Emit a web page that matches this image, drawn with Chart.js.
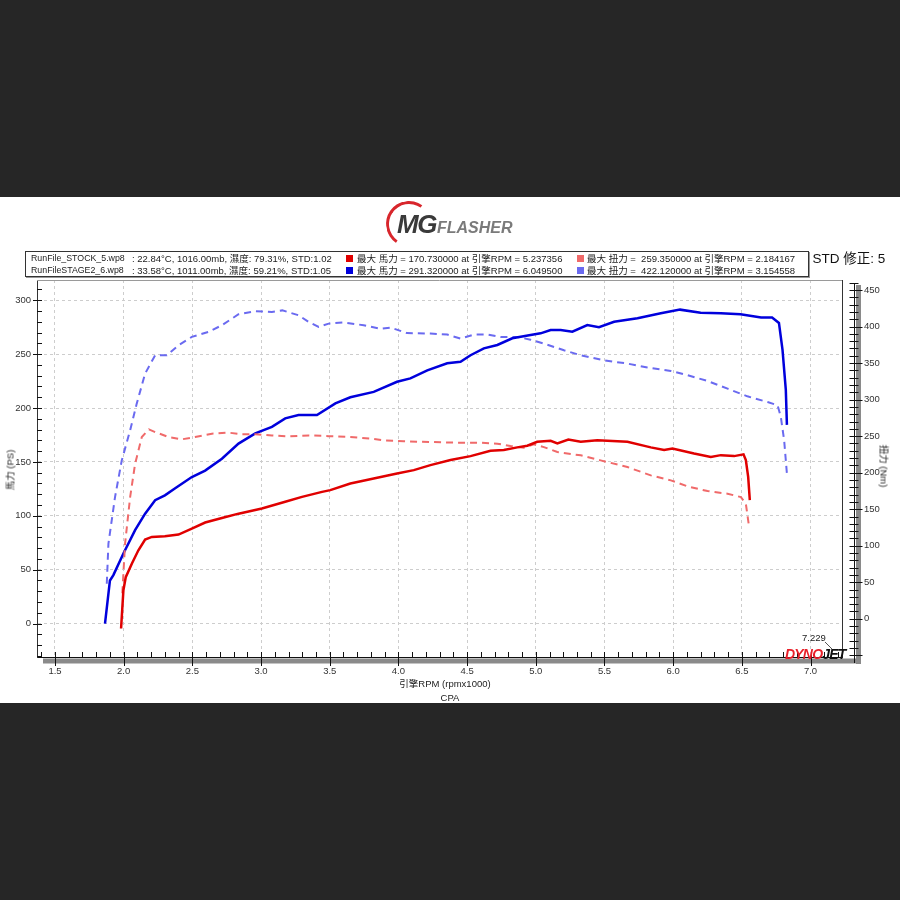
<!DOCTYPE html>
<html><head><meta charset="utf-8">
<script src="https://cdn.jsdelivr.net/npm/chart.js@4.4.1/dist/chart.umd.min.js"></script>
<style>
html,body{margin:0;padding:0;background:#262626;width:900px;height:900px;overflow:hidden;font-family:"Liberation Sans","Noto Sans CJK TC",Arial,sans-serif;}
#band{position:absolute;left:0;top:197px;width:900px;height:506px;background:#fff;}
#wrap{position:absolute;left:0;top:0;width:900px;height:900px;}
.t{position:absolute;white-space:nowrap;color:#222;z-index:3;}
#legend{position:absolute;left:25px;top:251px;width:782px;height:24px;border:1px solid #333;background:#fff;z-index:4;box-shadow:1px 1px 0 #999;}
#legend .t{font-size:9.5px;line-height:11px;color:#222;}
#legend .fn{font-size:8.8px;}
.sq{position:absolute;width:7px;height:7px;z-index:5;}
#arc{position:absolute;left:386px;top:201px;width:40px;height:40px;border-radius:50%;border:3px solid transparent;border-top-color:#d8262c;border-left-color:#d8262c;transform:rotate(-10deg);z-index:2;}
</style></head><body>
<div id="band"></div>
<div id="wrap"><canvas id="c" width="900" height="900"></canvas></div>

<div id="arc"></div>
<div class="t" style="left:397px;top:209px;font:italic bold 26px 'Liberation Sans',Arial,sans-serif;color:#3a3a3a;letter-spacing:-1.5px;">MG</div>
<div class="t" style="left:437px;top:219px;font:italic bold 16px 'Liberation Sans',Arial,sans-serif;color:#7a7a7a;letter-spacing:0px;">FLASHER</div>

<div class="t" style="left:805px;top:247px;font-size:13.5px;color:#111;">: STD 修正: 5</div>

<div id="legend">
  <div class="t fn" style="left:5px;top:1px;">RunFile_STOCK_5.wp8</div>
  <div class="t" style="left:106px;top:1px;">: 22.84°C, 1016.00mb, 濕度: 79.31%, STD:1.02</div>
  <div class="sq" style="left:320px;top:3px;background:#e00000;"></div>
  <div class="t" style="left:331px;top:1px;">最大 馬力 = 170.730000 at 引擎RPM = 5.237356</div>
  <div class="sq" style="left:551px;top:3px;background:#f06a6a;"></div>
  <div class="t" style="left:561px;top:1px;">最大 扭力 =&nbsp; 259.350000 at 引擎RPM = 2.184167</div>
  <div class="t fn" style="left:5px;top:13px;">RunFileSTAGE2_6.wp8</div>
  <div class="t" style="left:106px;top:13px;">: 33.58°C, 1011.00mb, 濕度: 59.21%, STD:1.05</div>
  <div class="sq" style="left:320px;top:15px;background:#0000dc;"></div>
  <div class="t" style="left:331px;top:13px;">最大 馬力 = 291.320000 at 引擎RPM = 6.049500</div>
  <div class="sq" style="left:551px;top:15px;background:#6a6af0;"></div>
  <div class="t" style="left:561px;top:13px;">最大 扭力 =&nbsp; 422.120000 at 引擎RPM = 3.154558</div>
</div>

<div class="t" style="left:-13px;top:463px;width:45px;text-align:center;font-size:9.5px;transform:rotate(-90deg);">馬力 (PS)</div>
<div class="t" style="left:862px;top:459px;width:45px;text-align:center;font-size:9.5px;transform:rotate(90deg);">扭力 (Nm)</div>
<div class="t" style="left:385px;top:676px;width:120px;text-align:center;font-size:9.5px;">引擎RPM (rpmx1000)</div>
<div class="t" style="left:430px;top:692px;width:40px;text-align:center;font-size:9.5px;">CPA</div>
<div class="t" style="left:802px;top:632px;font-size:9.5px;">7.229</div>
<div class="t" style="left:785px;top:646px;font:italic bold 14px 'Liberation Sans',Arial,sans-serif;color:#e8202a;letter-spacing:-0.8px;">DYNO<span style="color:#111;">JET</span></div>

<script>
// ---- data (rpm x1000, PS, Nm) ----
const stockRpmHp = [1.981,1.998,2.015,2.06,2.107,2.156,2.205,2.30,2.399,2.496,2.593,2.715,2.836,3.006,3.176,3.298,3.444,3.504,3.65,3.82,3.99,4.112,4.233,4.379,4.525,4.67,4.767,4.865,4.938,5.01,5.108,5.157,5.237,5.327,5.448,5.667,5.837,5.934,5.995,6.152,6.274,6.347,6.444,6.512,6.529,6.546,6.558];
const stockHp = [-4.6,31,43,55.7,68,78,80.4,81,82.6,88.2,93.8,98,102,106.8,113,117.6,122.2,123.8,130,134.7,139.3,142.4,147,151.7,155.4,160.3,161,163.5,165,168.7,169.6,167.2,170.7,168.7,170.2,168.7,163.5,161,162.5,157.9,154.7,156.3,155.4,157,151.7,136.2,114.5];
const stockRpmTq = [1.99,2.01,2.047,2.083,2.132,2.184,2.229,2.326,2.423,2.52,2.642,2.763,2.86,2.958,3.079,3.20,3.346,3.492,3.65,3.796,3.893,4.039,4.233,4.428,4.598,4.72,4.816,4.913,4.986,5.059,5.157,5.327,5.472,5.667,5.837,5.983,6.105,6.25,6.396,6.493,6.529,6.553];
const stockTq = [35,102.7,166.6,212,248.8,259.3,255.6,248.8,245.6,248.8,253.4,254.8,252.5,252.5,251,249.7,251,250,248.8,246.6,244.2,242.9,242,241,241,239.7,236.4,234.2,238.8,235,228.2,223.7,216.8,207.7,196.3,189.5,181.2,174.8,171.2,166.6,157.5,125.5];
const stage2RpmHp = [1.864,1.90,1.925,1.998,2.083,2.156,2.229,2.30,2.375,2.496,2.593,2.715,2.836,2.958,3.079,3.176,3.273,3.407,3.541,3.65,3.82,3.99,4.087,4.21,4.355,4.452,4.525,4.622,4.72,4.829,4.962,5.035,5.108,5.181,5.266,5.375,5.46,5.57,5.74,5.91,6.05,6.20,6.347,6.49,6.64,6.72,6.77,6.796,6.82,6.828];
const stage2Hp = [0,40,45,65,86.7,102,114.5,119,125.6,136,142,153,167,176.5,182.6,190.4,193.5,193.5,204.3,210,215,224.4,227.5,235,241.5,243,249,255.4,258.5,264.7,267.8,269.3,272.4,272.4,270.8,277,275,280,283.3,288,291.3,288.5,288,287,284,284,279,254,216.8,184.4];
const stage2RpmTq = [1.877,1.889,1.937,1.986,2.047,2.095,2.156,2.229,2.314,2.399,2.496,2.617,2.715,2.836,2.958,3.079,3.155,3.273,3.346,3.419,3.492,3.60,3.747,3.869,3.942,4.063,4.233,4.355,4.452,4.549,4.647,4.743,4.865,4.962,5.059,5.205,5.327,5.496,5.667,5.813,5.983,6.105,6.25,6.396,6.54,6.687,6.76,6.784,6.808,6.828];
const stage2Tq = [48,103,166.6,216.8,258,294.5,335.6,360.7,360.7,374.4,385.8,392.6,401.8,416.8,421,420,422.1,415.5,406.3,399.5,404,405.5,401.8,397,398.6,391,390.4,389,383.6,389,389,385.8,385.8,382,376.7,367.5,360.7,353.8,349.3,343.8,339.2,333.3,325.5,315,304.5,296.7,292.2,276,244,198.6];

const xRange = [1.369, 7.229];
const hpRange = [-31, 318.8];
const tqRange = [-52.3, 463.7];
const xMajor = 0.5, xMinor = 0.1;
const hpMajor = 50, tqMajor = 50, yMinor = 10;

const pts = (xs, ys) => xs.map((x, i) => ({x, y: ys[i]}));
const isMult = (v, m) => Math.abs(v / m - Math.round(v / m)) < 1e-6;
const FONT = {family: "'Liberation Sans', Arial, sans-serif", size: 9.5};

const decor = {
  id: 'decor',
  afterDraw(chart) {
    const ctx = chart.ctx, a = chart.chartArea;
    const sx = chart.scales.x, sy = chart.scales.y, sy2 = chart.scales.y2;
    ctx.save();
    ctx.strokeStyle = '#9a9a9a'; ctx.lineWidth = 1;
    ctx.beginPath(); ctx.moveTo(a.left, a.top + 0.5); ctx.lineTo(a.right, a.top + 0.5); ctx.stroke();
    ctx.fillStyle = '#8a8a8a';
    ctx.fillRect(a.left + 6, a.bottom + 1.5, a.right + 19 - (a.left + 6), 5);
    ctx.fillRect(a.right + 14, a.top + 5, 5, a.bottom - a.top + 2);
    ctx.strokeStyle = '#111'; ctx.lineWidth = 1;
    ctx.beginPath();
    for (let k = Math.ceil(sx.min / xMinor); k <= Math.floor(sx.max / xMinor); k++) {
      const v = k * xMinor;
      const px = Math.round(sx.getPixelForValue(v)) + 0.5;
      ctx.moveTo(px, a.bottom - 5);
      ctx.lineTo(px, isMult(v, xMajor) ? a.bottom + 9 : a.bottom);
    }
    for (let k = Math.ceil(sy.min / yMinor); k <= Math.floor(sy.max / yMinor); k++) {
      const v = k * yMinor;
      const py = Math.round(sy.getPixelForValue(v)) + 0.5;
      ctx.moveTo(isMult(v, hpMajor) ? a.left - 4 : a.left, py);
      ctx.lineTo(a.left + 5, py);
    }
    const rx = a.right + 12.5;
    ctx.moveTo(rx, a.top + 4); ctx.lineTo(rx, a.bottom + 6);
    for (let k = Math.ceil(sy2.min / yMinor); k <= Math.floor(sy2.max / yMinor); k++) {
      const v = k * yMinor;
      const py = Math.round(sy2.getPixelForValue(v)) + 0.5;
      ctx.moveTo(rx - 5, py);
      ctx.lineTo(isMult(v, tqMajor) ? rx + 8 : rx + 4, py);
    }
    ctx.stroke();
    ctx.strokeStyle = '#555';
    ctx.beginPath(); ctx.moveTo(825, 642); ctx.lineTo(833, 650); ctx.stroke();
    ctx.restore();
  }
};

new Chart(document.getElementById('c'), {
  type: 'line',
  data: {
    datasets: [
      {label: 'STOCK 馬力', data: pts(stockRpmHp, stockHp), yAxisID: 'y', borderColor: '#e00000', borderWidth: 2.5},
      {label: 'STOCK 扭力', data: pts(stockRpmTq, stockTq), yAxisID: 'y2', borderColor: '#f06a6a', borderWidth: 2, borderDash: [7, 5]},
      {label: 'STAGE2 馬力', data: pts(stage2RpmHp, stage2Hp), yAxisID: 'y', borderColor: '#0000dc', borderWidth: 2.5},
      {label: 'STAGE2 扭力', data: pts(stage2RpmTq, stage2Tq), yAxisID: 'y2', borderColor: '#6a6af0', borderWidth: 2, borderDash: [7, 5]}
    ]
  },
  options: {
    responsive: false,
    animation: false,
    devicePixelRatio: 1,
    layout: {padding: {top: 280, left: 0, right: 0, bottom: 0}},
    elements: {point: {radius: 0}, line: {tension: 0, fill: false}},
    plugins: {legend: {display: false}, tooltip: {enabled: false}},
    scales: {
      x: {
        type: 'linear', min: xRange[0], max: xRange[1],
        afterFit: s => { s.height = 900 - 657; },
        ticks: {stepSize: xMinor, autoSkip: false, maxRotation: 0, padding: 9, color: '#333', font: FONT,
          callback: v => isMult(v, xMajor) ? v.toFixed(1) : ''},
        grid: {drawTicks: false, color: c => (c.tick && isMult(c.tick.value, xMajor)) ? '#cdcdcd' : 'rgba(0,0,0,0)'},
        border: {display: true, color: '#111', width: 1, dash: [3, 3]}
      },
      y: {
        type: 'linear', position: 'left', min: hpRange[0], max: hpRange[1],
        afterFit: s => { s.width = 37; },
        ticks: {stepSize: yMinor, autoSkip: false, padding: 6, color: '#333', font: FONT,
          callback: v => isMult(v, hpMajor) ? String(Math.round(v)) : ''},
        grid: {drawTicks: false, color: c => (c.tick && isMult(c.tick.value, hpMajor)) ? '#cdcdcd' : 'rgba(0,0,0,0)'},
        border: {display: true, color: '#333', width: 1, dash: [3, 3]}
      },
      y2: {
        type: 'linear', position: 'right', min: tqRange[0], max: tqRange[1],
        afterFit: s => { s.width = 58; },
        ticks: {stepSize: yMinor, autoSkip: false, padding: 22, color: '#333', font: FONT,
          callback: v => isMult(v, tqMajor) ? String(Math.round(v)) : ''},
        grid: {drawTicks: false, drawOnChartArea: false},
        border: {display: true, color: '#333', width: 1}
      }
    }
  },
  plugins: [decor]
});
</script>
</body></html>
